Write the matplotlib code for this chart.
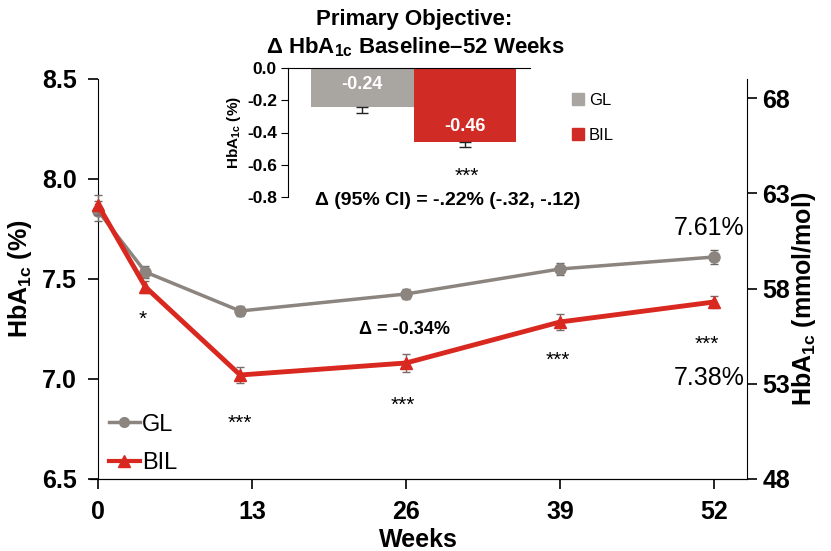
import matplotlib
matplotlib.use("Agg")
import matplotlib.pyplot as plt
from matplotlib.patches import Patch
from matplotlib.lines import Line2D

plt.rcParams['font.family'] = ['Liberation Sans', 'DejaVu Sans']
plt.rcParams['mathtext.fontset'] = 'custom'
plt.rcParams['mathtext.default'] = 'regular'
plt.rcParams['mathtext.rm'] = 'Liberation Sans'
plt.rcParams['mathtext.bf'] = 'Liberation Sans:bold'

# main panel data
weeks = [0, 4, 12, 26, 39, 52]
gl = [7.84, 7.535, 7.34, 7.425, 7.55, 7.61]
gl_err = [0.05, 0.03, 0.025, 0.025, 0.03, 0.035]
bil = [7.87, 7.46, 7.02, 7.08, 7.285, 7.385]
bil_err = [0.05, 0.03, 0.04, 0.045, 0.04, 0.03]
xticks = [0, 13, 26, 39, 52]
yticks = [6.5, 7.0, 7.5, 8.0, 8.5]
mmol_ticks = [48, 53, 58, 63, 68]

# significance marks: (week, y, text)
stars = [(3.8, 7.30, '*'), (12, 6.78, '***'), (25.7, 6.87, '***'),
         (38.8, 7.095, '***'), (51.4, 7.175, '***')]

# inset data
groups = ['GL', 'BIL']
change = [-0.24, -0.46]
change_err = [0.04, 0.03]

GREY = '#8b847f'
RED = '#d8281f'
BAR_GREY = '#a9a5a1'
BAR_RED = '#d12b26'

fig = plt.figure(figsize=(8.31, 5.51), dpi=100)
ax = fig.add_axes([90/831, 1-479/551, (747-90)/831, 400/551])

ax.errorbar(weeks, gl, yerr=gl_err, color=GREY, lw=2.5, marker='o', ms=8,
            ecolor='#6f6a66', elinewidth=1, capsize=3, zorder=3)
ax.errorbar(weeks, bil, yerr=bil_err, color=RED, lw=3.5, marker='^', ms=9,
            ecolor='#7a6a6a', elinewidth=1, capsize=3, zorder=4)

ax.set_xlim(-0.68, 54.8)
ax.set_ylim(6.5, 8.5)
ax.spines['left'].set_position(('data', 0))
ax.spines['top'].set_visible(False)
ax.spines['right'].set_visible(False)
ax.set_xticks(xticks)
ax.set_yticks(yticks)
ax.set_yticklabels([f'{v:.1f}' for v in yticks])
ax.tick_params(axis='both', labelsize=18, length=7, width=1.2, direction='out', pad=8)
for lab in ax.get_xticklabels() + ax.get_yticklabels():
    lab.set_fontweight('bold')
ax.set_xlabel('Weeks', fontsize=18, fontweight='bold', labelpad=3)
ax.set_ylabel('HbA$_{1c}$ (%)', fontsize=18, fontweight='bold')
ax.yaxis.set_label_coords(-0.085, 0.5)

ax2 = ax.twinx()
ax2.set_ylim(48, 69)
ax2.set_yticks(mmol_ticks)
ax2.spines['top'].set_visible(False)
ax2.spines['left'].set_visible(False)
ax2.tick_params(axis='y', labelsize=18, length=7, width=1.2, pad=4)
for lab in ax2.get_yticklabels():
    lab.set_fontweight('bold')
ax2.set_ylabel('HbA$_{1c}$ (mmol/mol)', fontsize=18, fontweight='bold')
ax2.yaxis.set_label_coords(1.065, 0.45)

for x, y, s in stars:
    ax.text(x, y, s, ha='center', va='center', fontsize=15)
ax.text(25.9, 7.245, '\u0394 = -0.34%', ha='center', va='center', fontsize=13,
        fontweight='bold')
ax.text(51.6, 7.755, f'{gl[-1]:.2f}%', ha='center', va='center', fontsize=18)
ax.text(51.6, 7.005, f'{bil[-1]:.2f}%', ha='center', va='center', fontsize=18)

leg_handles = [Line2D([], [], color=GREY, lw=2.5, marker='o', ms=7, label='GL'),
               Line2D([], [], color=RED, lw=3, marker='^', ms=8, label='BIL')]
ax.legend(handles=leg_handles, loc='center left', bbox_to_anchor=(109/831, 1-444/551),
          bbox_transform=fig.transFigure, frameon=False, fontsize=17,
          numpoints=1, handlelength=1.3, handletextpad=0.1, labelspacing=0.7,
          borderpad=0, borderaxespad=0)

# inset bar chart
axi = fig.add_axes([288/831, 1-197/551, (530-288)/831, (197-68)/551])
axi.bar([0, 1], change, width=1, color=[BAR_GREY, BAR_RED], zorder=2)
axi.errorbar([0, 1], change, yerr=[change_err, [0, 0]], fmt='none',
             ecolor='#222222', elinewidth=1, capsize=4, zorder=3)
axi.set_xlim(-0.725, 1.637)
axi.set_ylim(-0.8, 0)
axi.set_xticks([])
axi.set_yticks([0, -0.2, -0.4, -0.6, -0.8])
axi.set_yticklabels(['0.0', '-0.2', '-0.4', '-0.6', '-0.8'])
axi.spines['bottom'].set_visible(False)
axi.spines['right'].set_visible(False)
axi.tick_params(axis='y', labelsize=12.5, length=5, pad=3)
for lab in axi.get_yticklabels():
    lab.set_fontweight('bold')
axi.set_ylabel('HbA$_{1c}$ (%)', fontsize=11, fontweight='bold', labelpad=3)
axi.patch.set_alpha(0)

axi.text(0, -0.105, f'{change[0]:.2f}', ha='center', va='center', color='white',
         fontsize=13, fontweight='bold')
axi.text(1, -0.365, f'{change[1]:.2f}', ha='center', va='center', color='white',
         fontsize=13, fontweight='bold')
axi.text(1.02, -0.67, '***', ha='center', va='center', fontsize=15)
axi.text(0.83, -0.82, '\u0394 (95% CI) = -.22% (-.32, -.12)', ha='center',
         va='center', fontsize=14, fontweight='bold', clip_on=False)

handles = [Patch(color=BAR_GREY, label='GL'), Patch(color=BAR_RED, label='BIL')]
fig.legend(handles=handles, loc='center left', bbox_to_anchor=(572/831, 1-118/551),
           frameon=False, fontsize=12, handlelength=0.7, handleheight=0.7,
           handletextpad=0.3, labelspacing=1.2, borderpad=0, borderaxespad=0)

fig.text(414/831, 1-20/551, 'Primary Objective:', ha='center', va='center',
         fontsize=16, fontweight='bold')
fig.text(415/831, 1-47/551, '\u0394 HbA$_{1c}$ Baseline\u201352 Weeks', ha='center',
         va='center', fontsize=16, fontweight='bold')

fig.savefig('out.png', dpi=100)
